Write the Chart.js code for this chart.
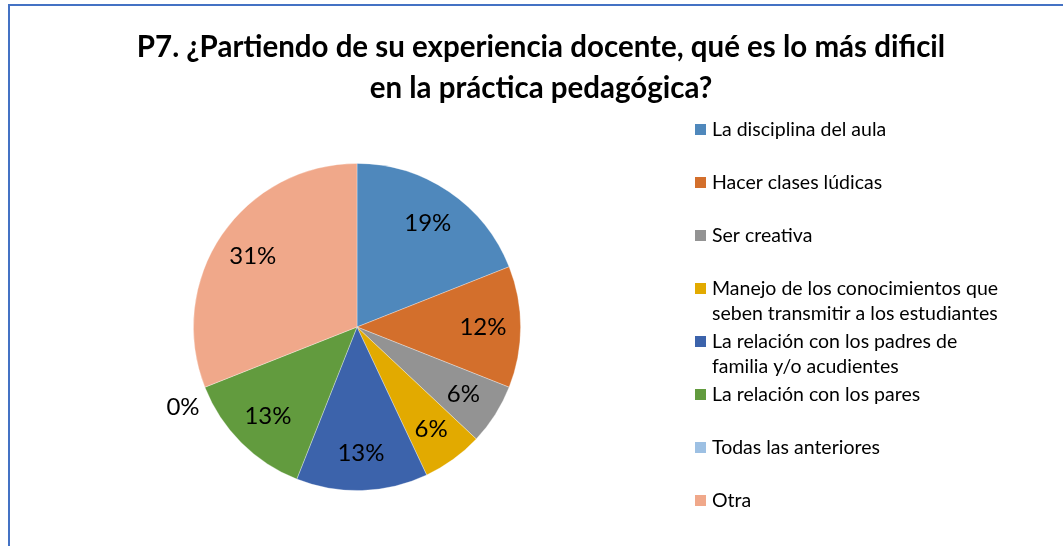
<!DOCTYPE html>
<html>
<head>
<meta charset="utf-8">
<script src="https://cdn.jsdelivr.net/npm/chart.js@4/dist/chart.umd.min.js"></script>
<style>
  html, body { margin: 0; padding: 0; background: #fff; }
  #wrap { position: relative; width: 1063px; height: 546px; overflow: hidden; }
  #frame { position: absolute; left: 8px; top: 4px; right: -10px; bottom: -10px;
           border-left: 2px solid #4472c4; border-top: 2px solid #4472c4; pointer-events: none; }
  canvas { position: absolute; left: 0; top: 0; }
</style>
</head>
<body>
<div id="wrap">
  <canvas id="pie" width="1063" height="546"></canvas>
  <div id="frame"></div>
</div>
<script>
const titleLines = [
  "P7. ¿Partiendo de su experiencia docente, qué es lo más dificil",
  "en la práctica pedagógica?"
];
const categories = [
  "La disciplina del aula",
  "Hacer clases lúdicas",
  "Ser creativa",
  "Manejo de los conocimientos que seben transmitir a los estudiantes",
  "La relación con los padres de familia y/o acudientes",
  "La relación con los pares",
  "Todas las anteriores",
  "Otra"
];
const percentages = [19, 12, 6, 6, 13, 13, 0, 31];
const sliceColors = ["#4f88bc", "#d36f2c", "#939393", "#e2aa00", "#3c63ab", "#629b3e", "#9dc0e3", "#f0a88a"];

const FONT = "Lato, 'Open Sans', sans-serif";

function wrapText(ctx, text, maxWidth) {
  const words = text.split(" ");
  const lines = [];
  let line = "";
  words.forEach((w) => {
    const test = line ? line + " " + w : w;
    if (ctx.measureText(test).width > maxWidth && line) {
      lines.push(line);
      line = w;
    } else {
      line = test;
    }
  });
  if (line) lines.push(line);
  return lines;
}

const extras = {
  id: "extras",
  afterDraw(chart) {
    const ctx = chart.ctx;
    ctx.save();

    // title
    ctx.fillStyle = "#000";
    ctx.font = "bold 29.5px " + FONT;
    ctx.textAlign = "center";
    ctx.textBaseline = "middle";
    titleLines.forEach((t, i) => ctx.fillText(t, 541, 47 + i * 41));

    // percentage labels
    const meta = chart.getDatasetMeta(0);
    ctx.font = "24px " + FONT;
    meta.data.forEach((arc, i) => {
      const p = arc.getProps(["x", "y", "startAngle", "endAngle", "outerRadius"], true);
      const mid = (p.startAngle + p.endAngle) / 2;
      const zero = percentages[i] === 0;
      const r = p.outerRadius * (zero ? 1.17 : 0.77);
      const lx = p.x + Math.cos(mid) * r + (zero ? 4 : 0);
      const ly = p.y + Math.sin(mid) * r + (zero ? 10 : 0);
      ctx.fillText(percentages[i] + "%", lx, ly);
    });

    // legend
    ctx.font = "19.5px " + FONT;
    ctx.textAlign = "left";
    categories.forEach((label, i) => {
      const y = 130 + i * 53;
      ctx.fillStyle = sliceColors[i];
      ctx.fillRect(695, y - 6, 11, 11);
      ctx.fillStyle = "#000";
      wrapText(ctx, label, 300).forEach((line, j) => ctx.fillText(line, 712, y + j * 24.5));
    });

    ctx.restore();
  }
};

new Chart(document.getElementById("pie"), {
  type: "pie",
  data: {
    labels: categories,
    datasets: [
      {
        data: percentages,
        backgroundColor: sliceColors,
        borderColor: "rgba(255,255,255,0.4)",
        borderWidth: 0.8,
      },
    ],
  },
  options: {
    responsive: false,
    animation: false,
    layout: { padding: { left: 193, right: 542, top: 163, bottom: 55 } },
    plugins: {
      legend: { display: false },
      title: { display: false },
      tooltip: { enabled: false },
    },
  },
  plugins: [extras],
});
</script>
</body>
</html>
